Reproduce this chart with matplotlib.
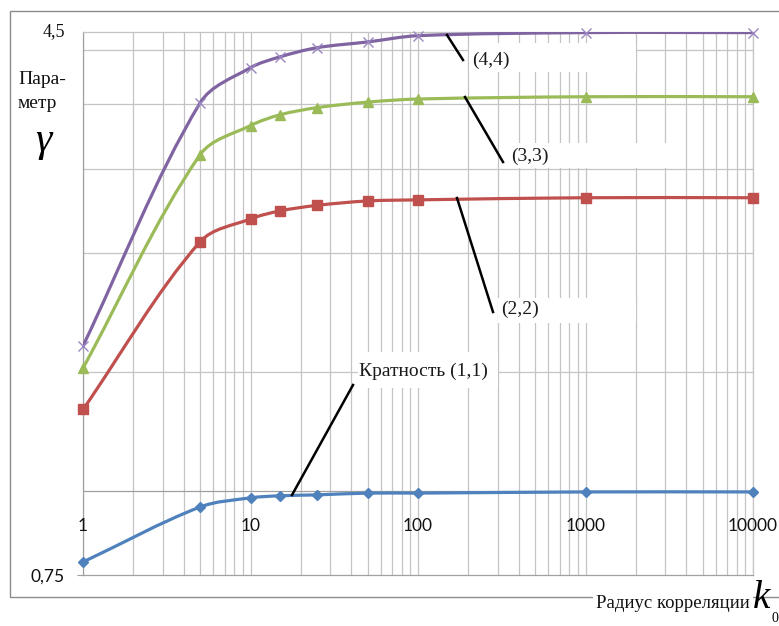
import numpy as np
import matplotlib
matplotlib.use("Agg")
import matplotlib.pyplot as plt
from matplotlib.path import Path
from matplotlib.patches import PathPatch, Rectangle
from matplotlib.lines import Line2D
from matplotlib.ticker import NullFormatter

# ---------------- data ----------------
x_values = [1, 5, 10, 15, 25, 50, 100, 1000, 10000]
gamma_11 = [0.784, 0.946, 0.976, 0.983, 0.986, 0.992, 0.992, 0.996, 0.996]
gamma_22 = [1.32, 2.34, 2.53, 2.60, 2.65, 2.69, 2.70, 2.72, 2.72]
gamma_33 = [1.52, 3.15, 3.48, 3.61, 3.70, 3.77, 3.81, 3.84, 3.84]
gamma_44 = [1.64, 3.76, 4.24, 4.40, 4.54, 4.63, 4.73, 4.78, 4.78]
series_labels = ["Кратность (1,1)", "(2,2)", "(3,3)", "(4,4)"]
x_tick_values = [1, 10, 100, 1000, 10000]
x_tick_labels = ["1", "10", "100", "1000", "10000"]
y_grid_values = [1.5, 2.25, 3.0, 3.75, 4.5]
y_min, y_max = 0.75, 4.79
y_label_bottom = "0,75"
y_label_top = "4,5"

W, H = 779, 626
fig = plt.figure(figsize=(W / 100, H / 100), dpi=100)
fig.patch.set_facecolor("white")


def fx(px):
    return px / W


def fy(py):
    return 1 - py / H


ax = fig.add_axes([fx(83), fy(575), 670 / W, 543 / H])
ax.set_xscale("log")
ax.set_yscale("log")
ax.set_xlim(1, 10000)
ax.set_ylim(y_min, y_max)
ax.set_axisbelow(True)

grid_c = "#C4C4C4"
axis_c = "#A0A0A0"
ax.set_xticks(x_tick_values)
ax.set_xticks([m * 10 ** k for k in range(4) for m in range(2, 10)], minor=True)
ax.set_yticks([y_min])
ax.set_yticks(y_grid_values, minor=True)
for a in (ax.xaxis, ax.yaxis):
    a.set_major_formatter(NullFormatter())
    a.set_minor_formatter(NullFormatter())
ax.tick_params(axis="x", which="both", length=0)
ax.tick_params(axis="y", which="minor", length=0)
ax.tick_params(axis="y", which="major", length=4.5, color=axis_c, width=0.8)
ax.grid(True, which="both", axis="x", color=grid_c, lw=0.9)
ax.grid(True, which="minor", axis="y", color=grid_c, lw=0.9)
ax.grid(False, which="major", axis="y")
for s in ("left", "bottom"):
    ax.spines[s].set_color(axis_c)
    ax.spines[s].set_linewidth(0.9)
for s in ("top", "right"):
    ax.spines[s].set_color(grid_c)
    ax.spines[s].set_linewidth(0.9)
ax.axhline(1.0, color=axis_c, lw=0.9, zorder=0.6)

# x tick labels placed under the axis line crossing at 1
for xv, lab in zip(x_tick_values, x_tick_labels):
    ax.annotate(lab, xy=(xv, 1.0), xytext=(0, -35), textcoords="offset pixels",
                ha="center", va="center", fontsize=12.5, family="Lato", color="#111111")

# pixel-per-decade factors, so smoothing is done in a geometrically isotropic space
x_scale = 670 / np.log10(10000 / 1)
y_scale = 543 / np.log10(y_max / y_min)


def smooth_patch(xs, ys, color, lw):
    P = np.column_stack([np.log10(xs) * x_scale, np.log10(ys) * y_scale])
    n = len(P)
    tang = []
    for i in range(n):
        a = P[i - 1] if i > 0 else P[i]
        b = P[i + 1] if i + 1 < n else P[i]
        d = b - a
        tang.append(d / (np.hypot(*d) + 1e-12))
    verts = [P[0]]
    codes = [Path.MOVETO]
    for i in range(n - 1):
        p1, p2 = P[i], P[i + 1]
        L = np.hypot(*(p2 - p1))
        verts += [p1 + tang[i] * L * 0.33, p2 - tang[i + 1] * L * 0.33, p2]
        codes += [Path.CURVE4] * 3
    verts = np.array(verts)
    verts = np.column_stack([10 ** (verts[:, 0] / x_scale), 10 ** (verts[:, 1] / y_scale)])
    patch = PathPatch(Path(verts, codes), fill=False, edgecolor=color, lw=lw,
                      zorder=3, capstyle="round", joinstyle="round")
    ax.add_patch(patch)


c_blue, c_red, c_green, c_purple = "#4F81BD", "#C0504D", "#9BBB59", "#8064A2"
smooth_patch(x_values, gamma_11, c_blue, 2.3)
smooth_patch(x_values, gamma_22, c_red, 2.3)
smooth_patch(x_values, gamma_33, c_green, 2.3)
smooth_patch(x_values, gamma_44, c_purple, 2.3)
ax.plot(x_values, gamma_11, ls="none", marker="D", ms=5.5, color=c_blue, zorder=4, clip_on=False)
ax.plot(x_values, gamma_22, ls="none", marker="s", ms=7, color=c_red, zorder=4, clip_on=False)
ax.plot(x_values, gamma_33, ls="none", marker="^", ms=7, color=c_green, zorder=4, clip_on=False)
ax.plot(x_values, gamma_44, ls="none", marker="x", ms=7, mew=1.0, color="#9A86C0", zorder=4, clip_on=False)

# white label boxes (pixel rectangles: x0, y0, x1, y1)
boxes = [(469, 43, 636, 72), (508, 143, 680, 168), (498, 298, 636, 323), (358, 352, 498, 388)]
for x0, y0, x1, y1 in boxes:
    ax.add_patch(Rectangle((fx(x0), fy(y1)), fx(x1) - fx(x0), fy(y0) - fy(y1),
                           transform=fig.transFigure, facecolor="white", edgecolor="none",
                           zorder=1, clip_on=False))

# leader lines and labels
leaders = [((292, 495), (353, 385)), ((457, 198), (493, 312)),
           ((465, 97), (503, 162)), ((447, 35), (463, 60))]
label_pos = [(359, 371), (501, 309), (511, 156), (472, 60)]
for (p, q), lab, (lx, ly) in zip(leaders, series_labels, label_pos):
    ax.add_line(Line2D([fx(p[0]), fx(q[0])], [fy(p[1]), fy(q[1])], transform=fig.transFigure,
                       color="black", lw=1.8, zorder=5, clip_on=False))
    ax.text(fx(lx), fy(ly), lab, transform=fig.transFigure, ha="left", va="center",
            fontsize=14, family="Liberation Serif", color="#1a1a1a", zorder=6)

# y-axis end labels
fig.text(fx(54), fy(32), y_label_top, ha="center", va="center", fontsize=13,
         family="Liberation Serif", color="#111111")
fig.text(fx(48), fy(577), y_label_bottom, ha="center", va="center", fontsize=12.5,
         family="Lato", color="#111111")

# y-axis title
fig.text(fx(18), fy(80), "Пара-", ha="left", va="center", fontsize=14,
         family="Liberation Serif", color="#111111")
fig.text(fx(18), fy(104), "метр", ha="left", va="center", fontsize=14,
         family="Liberation Serif", color="#111111")
fig.text(fx(43), fy(141), "γ", ha="center", va="center", fontsize=30,
         family="Liberation Serif", style="italic", color="black")

# outer chart border
fig.add_artist(Rectangle((fx(10), fy(597)), fx(800) - fx(10), fy(11) - fy(597),
                         transform=fig.transFigure, facecolor="none", edgecolor="#8C8C8C",
                         lw=1.0, zorder=0))

# x-axis title
fig.text(fx(750), fy(603), "Радиус корреляции", ha="right", va="center", fontsize=13.5,
         family="Liberation Serif", color="#111111",
         bbox=dict(facecolor="white", edgecolor="none", pad=2), zorder=5)
fig.text(fx(761), fy(599), "k", ha="center", va="center", fontsize=28,
         family="Liberation Serif", style="italic", color="black", zorder=6)
fig.text(fx(775), fy(618), "0", ha="center", va="center", fontsize=10,
         family="Liberation Serif", color="black", zorder=6)

fig.savefig("out.png", dpi=100)
